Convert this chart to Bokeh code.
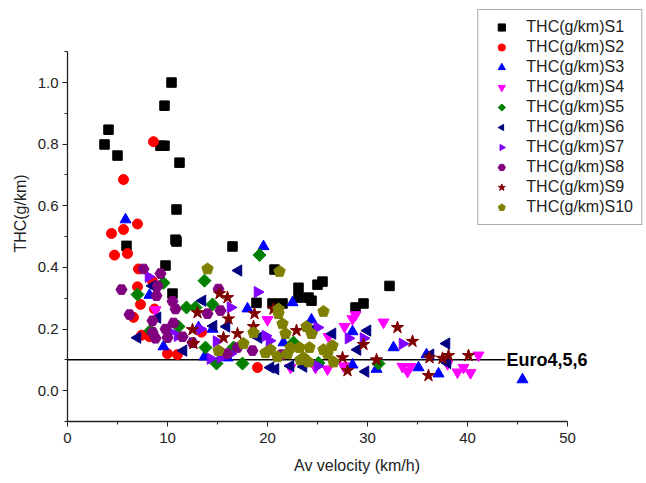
import math
from bokeh.plotting import figure
from bokeh.models import FixedTicker, Label, Legend
from bokeh.embed import file_html
from bokeh.resources import INLINE

# ---------------- data ----------------
s1_x = [4.1, 3.7, 5.0, 9.3, 9.7, 9.7, 10.4, 11.2, 10.9, 10.8, 10.9, 5.9, 9.8, 16.5, 10.5, 18.9, 20.7, 20.5, 21.5,
        23.1, 23.1, 24.1, 24.4, 25.0, 25.5, 28.8, 29.6, 32.2]
s1_y = [0.847, 0.799, 0.763, 0.795, 0.795, 0.925, 1.0, 0.74, 0.588, 0.49, 0.484, 0.47, 0.406, 0.468, 0.315, 0.285,
        0.393, 0.283, 0.283, 0.334, 0.302, 0.302, 0.292, 0.344, 0.354, 0.27, 0.283, 0.34]

s2_x = [8.6, 5.6, 7.0, 5.6, 4.4, 4.7, 6.0, 7.1, 8.5, 7.0, 7.3, 8.7, 6.6, 7.4, 8.2, 10.0, 11.0, 19.0, 13.4]
s2_y = [0.808, 0.685, 0.541, 0.523, 0.51, 0.44, 0.445, 0.395, 0.355, 0.337, 0.28, 0.265, 0.238, 0.18, 0.175, 0.12,
        0.117, 0.075, 0.19]

s3_x = [5.8, 8.2, 9.6, 13.1, 14.5, 13.7, 16.0, 18.0, 19.6, 22.5, 24.4, 21.6, 28.5, 28.5, 30.9, 32.6, 35.1, 35.9,
        37.1, 45.5]
s3_y = [0.555, 0.31, 0.143, 0.205, 0.2, 0.11, 0.107, 0.266, 0.468, 0.286, 0.23, 0.156, 0.192, 0.084, 0.07, 0.14,
        0.075, 0.117, 0.055, 0.036]

s4_x = [20.0, 26.1, 27.7, 28.5, 28.8, 31.6, 24.8, 26.0, 33.5, 34.3, 34.0, 38.0, 39.0, 39.6, 40.3, 41.1, 22.3, 27.6,
        8.8]
s4_y = [0.23, 0.175, 0.208, 0.233, 0.246, 0.222, 0.075, 0.07, 0.078, 0.078, 0.062, 0.087, 0.06, 0.075, 0.058,
        0.115, 0.075, 0.08, 0.262]

s5_x = [9.6, 7.0, 8.3, 11.9, 12.8, 14.5, 13.7, 11.1, 13.8, 14.9, 17.5, 19.2, 22.6, 31.1, 16.6, 25.1]
s5_y = [0.35, 0.312, 0.195, 0.27, 0.27, 0.28, 0.357, 0.208, 0.14, 0.088, 0.088, 0.44, 0.156, 0.088, 0.14, 0.09]

s6_x = [7.0, 8.5, 9.0, 11.6, 13.5, 14.6, 15.9, 17.1, 19.1, 20.3, 20.8, 23.6, 24.6, 26.5, 29.0, 29.8, 30.0, 36.3,
        37.9, 38.0, 22.3]
s6_y = [0.172, 0.34, 0.237, 0.13, 0.292, 0.21, 0.208, 0.39, 0.172, 0.075, 0.07, 0.078, 0.2, 0.185, 0.133, 0.062,
        0.195, 0.117, 0.153, 0.09, 0.08]

s7_x = [8.1, 11.0, 13.3, 14.9, 16.3, 16.3, 14.3, 15.3, 19.0, 19.8, 20.2, 25.0, 28.1, 29.6, 33.5, 25.0, 10.3]
s7_y = [0.37, 0.178, 0.2, 0.16, 0.27, 0.12, 0.104, 0.107, 0.32, 0.178, 0.162, 0.205, 0.17, 0.17, 0.152, 0.08, 0.19]

s8_x = [5.4, 7.6, 9.3, 9.0, 8.9, 6.2, 8.5, 8.5, 9.8, 10.5, 10.8, 10.6, 8.8, 10.0, 11.5, 12.5, 15.1, 14.0, 15.3,
        16.0, 17.0, 18.5, 21.4]
s8_y = [0.328, 0.395, 0.38, 0.34, 0.308, 0.247, 0.227, 0.19, 0.2, 0.29, 0.265, 0.22, 0.17, 0.172, 0.175, 0.156,
        0.33, 0.25, 0.26, 0.12, 0.14, 0.13, 0.117]

s9_x = [15.2, 16.0, 13.0, 16.1, 12.5, 12.6, 15.6, 17.0, 18.6, 18.7, 20.6, 22.9, 27.5, 28.0, 29.6, 30.9, 33.0, 34.5,
        36.2, 36.1, 37.5, 38.1, 40.1]
s9_y = [0.315, 0.302, 0.253, 0.233, 0.198, 0.153, 0.172, 0.185, 0.208, 0.25, 0.265, 0.195, 0.107, 0.065, 0.15,
        0.1, 0.205, 0.16, 0.107, 0.049, 0.105, 0.114, 0.114]

s10_x = [14.0, 21.2, 25.6, 21.1, 21.1, 21.5, 21.8, 23.9, 24.4, 18.6, 17.6, 15.1, 19.8, 20.3, 22.3, 23.2, 24.2, 25.6,
         26.5, 26.0, 23.3, 24.1, 26.6, 22.0, 21.0, 23.6]
s10_y = [0.395, 0.387, 0.257, 0.265, 0.25, 0.217, 0.185, 0.208, 0.185, 0.188, 0.153, 0.13, 0.123, 0.133, 0.14, 0.14,
         0.14, 0.133, 0.146, 0.12, 0.1, 0.093, 0.093, 0.12, 0.11, 0.107]

series_names = ["THC(g/km)S1", "THC(g/km)S2", "THC(g/km)S3", "THC(g/km)S4", "THC(g/km)S5",
                "THC(g/km)S6", "THC(g/km)S7", "THC(g/km)S8", "THC(g/km)S9", "THC(g/km)S10"]

limit_x = [0, 43.8]
limit_y = [0.1, 0.1]
limit_label = "Euro4,5,6"

x_ticks = [0, 10, 20, 30, 40, 50]
x_minor = [5, 15, 25, 35, 45]
y_ticks = [0.0, 0.2, 0.4, 0.6, 0.8, 1.0]
y_tick_labels = ["0.0", "0.2", "0.4", "0.6", "0.8", "1.0"]
y_minor = [-0.1, 0.1, 0.3, 0.5, 0.7, 0.9, 1.1]

# ---------------- figure ----------------
FONT = "Liberation Sans"
p = figure(frame_width=579, frame_height=416, x_range=(0, 57.9), y_range=(-0.1, 1.25),
           output_backend="svg", toolbar_location=None,
           min_border_left=67, min_border_bottom=62, min_border_top=5, min_border_right=0)
p.outline_line_color = None
p.grid.visible = False
p.background_fill_color = "white"

for ax, bounds, ticks, minor in ((p.xaxis[0], (0, 50), x_ticks, x_minor), (p.yaxis[0], (-0.1, 1.1), y_ticks, y_minor)):
    ax.bounds = bounds
    ax.ticker = FixedTicker(ticks=ticks, minor_ticks=minor)
    ax.axis_line_color = "#222222"
    ax.axis_line_width = 1.3
    ax.major_tick_line_color = "#222222"
    ax.minor_tick_line_color = "#222222"
    ax.major_tick_in = 0
    ax.major_tick_out = 5
    ax.minor_tick_in = 0
    ax.minor_tick_out = 3
    ax.major_label_text_font = FONT
    ax.major_label_text_font_size = "15px"
    ax.major_label_text_color = "#222222"
    ax.axis_label_text_font = FONT
    ax.axis_label_text_font_size = "16px"
    ax.axis_label_text_font_style = "normal"
    ax.axis_label_text_color = "#222222"

p.yaxis[0].major_label_overrides = {t: l for t, l in zip(y_ticks, y_tick_labels)}
p.xaxis[0].axis_label = "Av velocity (km/h)"
p.yaxis[0].axis_label = "THC(g/km)"
p.xaxis[0].major_label_standoff = 6
p.yaxis[0].major_label_standoff = 4
p.xaxis[0].axis_label_standoff = 11
p.yaxis[0].axis_label_standoff = 6

# limit line
p.line(limit_x, limit_y, line_color="black", line_width=1.5)
p.add_layout(Label(x=limit_x[-1], y=limit_y[-1], text=limit_label, x_offset=1,
                   text_baseline="middle", text_font=FONT, text_font_size="18px",
                   text_font_style="bold", text_color="black"))

items = []
r = p.scatter(s1_x, s1_y, marker="square", size=9.5, color="black")
items.append((series_names[0], [r]))
r = p.scatter(s2_x, s2_y, marker="circle", size=10, color="#ff0000")
items.append((series_names[1], [r]))
r = p.scatter(s3_x, s3_y, marker="triangle", size=11, color="#0000ff")
items.append((series_names[2], [r]))
r = p.scatter(s4_x, s4_y, marker="inverted_triangle", size=11, color="#ff00ff")
items.append((series_names[3], [r]))
r = p.ngon(s5_x, s5_y, radius=6.5, radius_units="screen", n=4, angle=0,
           fill_color="#008000", line_color="#008000")
items.append((series_names[4], [r]))
r = p.ngon(s6_x, s6_y, radius=6.5, radius_units="screen", n=3, angle=math.pi / 2,
           fill_color="#000080", line_color="#000080")
items.append((series_names[5], [r]))
r = p.ngon(s7_x, s7_y, radius=6.5, radius_units="screen", n=3, angle=-math.pi / 2,
           fill_color="#8000ff", line_color="#8000ff")
items.append((series_names[6], [r]))
r = p.scatter(s8_x, s8_y, marker="hex", size=11, color="#800080")
items.append((series_names[7], [r]))
r = p.scatter(s9_x, s9_y, marker="star", size=13, color="#800000")
items.append((series_names[8], [r]))
r = p.ngon(s10_x, s10_y, radius=6, radius_units="screen", n=5, angle=0,
           fill_color="#808000", line_color="#808000")
items.append((series_names[9], [r]))

legend = Legend(items=items, location="top_right", orientation="vertical")
legend.label_text_font = FONT
legend.label_text_font_size = "16px"
legend.label_text_color = "#222222"
legend.glyph_width = 30
legend.glyph_height = 18
legend.label_height = 18
legend.label_standoff = 10
legend.spacing = 2
legend.padding = 8
legend.margin = 4
legend.border_line_color = "#555555"
legend.border_line_width = 1
legend.background_fill_color = "white"
legend.background_fill_alpha = 1.0
p.add_layout(legend)

open("out.html", "w").write(file_html(p, INLINE))
